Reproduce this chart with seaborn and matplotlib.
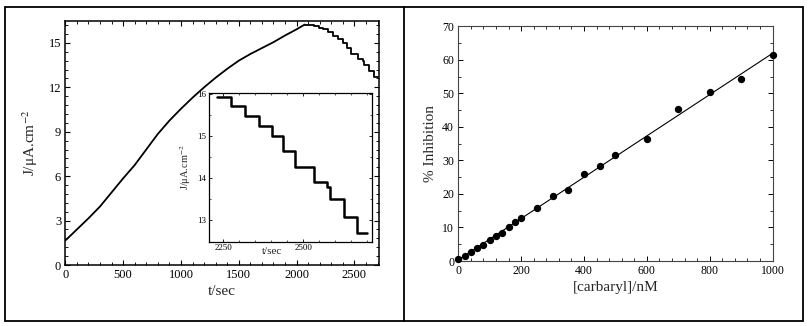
import numpy as np
import pandas as pd
import matplotlib
matplotlib.use("Agg")
import matplotlib.pyplot as plt
from matplotlib.ticker import MultipleLocator
import seaborn as sns

# ---------------- data ----------------
# main chronoamperogram, rising part
t_rise = [0, 100, 200, 300, 400, 500, 600, 700, 800, 900, 1000, 1100, 1200,
          1300, 1400, 1500, 1600, 1700, 1800, 1900, 2000, 2070]
j_rise = [1.65, 2.4, 3.15, 3.95, 4.9, 5.85, 6.75, 7.8, 8.85, 9.75, 10.55, 11.3,
          12.0, 12.65, 13.25, 13.8, 14.25, 14.65, 15.05, 15.5, 15.92, 16.24]
# stepwise decrease after carbaryl additions
step_t = [2070, 2110, 2150, 2190, 2231, 2273, 2318, 2362, 2401, 2437, 2474,
          2533, 2573, 2585, 2628, 2667, 2700]
step_j = [16.24, 16.2, 16.12, 16.04, 15.94, 15.72, 15.48, 15.24, 15.0, 14.64,
          14.28, 13.92, 13.8, 13.5, 13.08, 12.7, 12.7]

# calibration (% inhibition vs carbaryl)
carbaryl = [0, 20, 40, 60, 80, 100, 120, 140, 160, 180, 200, 250, 300, 350,
            400, 450, 500, 600, 700, 800, 900, 1000]
inhibition = [0.5, 1.6, 2.6, 4.0, 4.8, 6.3, 7.6, 8.5, 10.1, 11.5, 12.7, 15.7,
              19.5, 21.3, 26.0, 28.4, 31.6, 36.5, 45.3, 50.3, 54.3, 61.3]

main_xticks = [0, 500, 1000, 1500, 2000, 2500]
main_yticks = [0, 3, 6, 9, 12, 15]
inset_xticks = [2250, 2500]
inset_yticks = [13, 14, 15, 16]
right_xticks = [0, 200, 400, 600, 800, 1000]
right_yticks = [0, 10, 20, 30, 40, 50, 60, 70]

# ---------------- style ----------------
sns.set_theme(style="ticks")
plt.rcParams["font.family"] = ["Liberation Serif", "DejaVu Serif"]
plt.rcParams["mathtext.fontset"] = "stix"

W, H = 808, 326
fig = plt.figure(figsize=(W / 100, H / 100), dpi=100)
fig.patch.set_facecolor("white")


def px_axes(l, t, r, b):
    return fig.add_axes([l / W, 1 - b / H, (r - l) / W, (b - t) / H])


def style_ticks(ax, fs, major_len=3.5, minor_len=2, lw=0.8):
    ax.tick_params(which="both", direction="in", top=True, right=True,
                   labelsize=fs, pad=3, colors="black")
    ax.tick_params(which="major", length=major_len, width=lw)
    ax.tick_params(which="minor", length=minor_len, width=lw * 0.8)


# ---------------- main panel ----------------
ax1 = px_axes(65.3, 20.7, 378.7, 265)
df_rise = pd.DataFrame({"t": t_rise, "J": j_rise})
df_step = pd.DataFrame({"t": step_t, "J": step_j})
sns.lineplot(data=df_rise, x="t", y="J", ax=ax1, color="black", lw=1.3,
             estimator=None, sort=False)
sns.lineplot(data=df_step, x="t", y="J", ax=ax1, color="black", lw=1.3,
             estimator=None, sort=False, drawstyle="steps-post")
ax1.set_xlim(0, 2710)
ax1.set_ylim(0, 16.5)
ax1.set_xticks(main_xticks)
ax1.set_yticks(main_yticks)
ax1.xaxis.set_minor_locator(MultipleLocator(100))
ax1.yaxis.set_minor_locator(MultipleLocator(0.6))
style_ticks(ax1, 9)
for s in ax1.spines.values():
    s.set_linewidth(1.1)
    s.set_color("black")
ax1.set_xlabel("t/sec", fontsize=11, labelpad=3)
ax1.set_ylabel(r"J/μA.cm$^{-2}$", fontsize=11, labelpad=6)

# ---------------- inset ----------------
ax_in = px_axes(209, 93, 372, 241.5)
df_in = df_step[df_step["t"] >= 2231]
sns.lineplot(data=df_in, x="t", y="J", ax=ax_in, color="black", lw=1.8,
             estimator=None, sort=False, drawstyle="steps-post")
ax_in.set_xlim(2205, 2715)
ax_in.set_ylim(12.5, 16.03)
ax_in.set_xticks(inset_xticks)
ax_in.set_yticks(inset_yticks)
ax_in.xaxis.set_minor_locator(MultipleLocator(50))
ax_in.yaxis.set_minor_locator(MultipleLocator(0.5))
style_ticks(ax_in, 6.5, major_len=2.5, minor_len=1.5, lw=0.6)
ax_in.tick_params(axis="both", pad=2)
for s in ax_in.spines.values():
    s.set_linewidth(0.9)
    s.set_color("black")
ax_in.set_xlabel("t/sec", fontsize=8)
ax_in.xaxis.set_label_coords(0.385, -0.035, transform=ax_in.transAxes)
ax_in.xaxis.label.set_verticalalignment("top")
ax_in.set_ylabel(r"J/μA.cm$^{-2}$", fontsize=7.5, labelpad=3)
ax_in.set_facecolor("white")

# ---------------- right panel ----------------
ax2 = px_axes(458.3, 26.3, 772.5, 261)
df_cal = pd.DataFrame({"c": carbaryl, "inh": inhibition})
slope, intercept = np.polyfit(df_cal["c"], df_cal["inh"], 1)
xfit = np.array([min(carbaryl), max(carbaryl)])
sns.lineplot(x=xfit, y=slope * xfit + intercept, ax=ax2, color="black",
             lw=0.8, estimator=None)
sns.scatterplot(data=df_cal, x="c", y="inh", ax=ax2, color="black", s=28,
                edgecolor="black", linewidth=0, clip_on=False, zorder=3)
ax2.set_xlim(0, 1000)
ax2.set_ylim(0, 70)
ax2.set_xticks(right_xticks)
ax2.set_yticks(right_yticks)
ax2.xaxis.set_minor_locator(MultipleLocator(40))
ax2.yaxis.set_minor_locator(MultipleLocator(5))
style_ticks(ax2, 8.5, major_len=3.5, minor_len=2, lw=0.7)
for s in ax2.spines.values():
    s.set_linewidth(0.8)
    s.set_color("#444444")
ax2.set_xlabel("[carbaryl]/nM", fontsize=11, labelpad=3)
ax2.set_ylabel("% Inhibition", fontsize=11, labelpad=4)

# ---------------- frame ----------------
fig.add_artist(plt.Rectangle((5 / W, 1 - 321 / H), (802.7 - 5) / W,
                             (321 - 7) / H, transform=fig.transFigure,
                             fill=False, lw=1.3, ec="black"))
fig.add_artist(plt.Line2D([404 / W, 404 / W], [1 - 321 / H, 1 - 7 / H],
                          transform=fig.transFigure, lw=1.3, color="black"))

fig.savefig("out.png", dpi=100, facecolor="white")
